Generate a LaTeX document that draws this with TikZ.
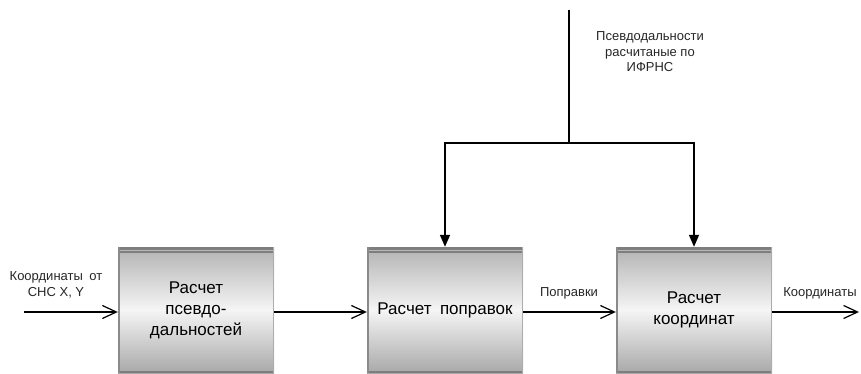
\documentclass[tikz,border=0pt]{standalone}
\usepackage{fontspec}
\setmainfont{Liberation Sans}
\usetikzlibrary{arrows.meta}
\definecolor{bandgray}{HTML}{7E7E7E}
\definecolor{bandline}{HTML}{B8B8B8}
\definecolor{edgegray}{HTML}{8A8A8A}
\begin{document}
\begin{tikzpicture}[x=1pt,y=1pt,
  procbox/.style={minimum width=156pt, minimum height=126pt, inner sep=0pt,
    align=center, font=\fontsize{17}{21}\selectfont,
    top color=black!30, bottom color=black!34, middle color=black!4,
    path picture={
      \fill[bandgray] (path picture bounding box.north west) rectangle ([yshift=-6pt]path picture bounding box.north east);
      \draw[bandline, line width=1pt] ([yshift=-3pt]path picture bounding box.north west) -- ([yshift=-3pt]path picture bounding box.north east);
      \fill[bandgray] (path picture bounding box.south west) rectangle ([yshift=2.5pt]path picture bounding box.south east);
      \fill[edgegray] (path picture bounding box.south west) rectangle ([xshift=1.5pt]path picture bounding box.north west);
      \fill[edgegray!70] ([xshift=-1.2pt]path picture bounding box.south east) rectangle (path picture bounding box.north east);
    }},
  flow/.style={line width=1.6pt, -{Straight Barb[length=14pt,width=13pt,line width=1.2pt]}},
  feed/.style={line width=1.6pt, -{Triangle[length=12pt,width=10pt]}},
  lbl/.style={font=\fontsize{13}{15.5}\selectfont, align=center, text=black!85}
]
\useasboundingbox (0,0) rectangle (861,373);

% processing blocks
\node[procbox] (b1) at (196,63) {Расчет\\псевдо-\\дальностей};
\node[procbox] (b2) at (445,63) {Расчет\enspace поправок};
\node[procbox] (b3) at (694,63) {Расчет\\координат};

% inputs and outputs
\coordinate (in) at (24,61);
\coordinate (out) at (859,61);
\draw[flow] (in) -- (in -| b1.west);
\draw[flow] (b1.east |- in) -- (b2.west |- in);
\draw[flow] (b2.east |- in) -- (b3.west |- in);
\draw[flow] (b3.east |- in) -- (out);

% pseudoranges from the radio navigation system
\coordinate (src) at (569,363);
\coordinate (split) at (569,230);
\draw[line width=1.6pt] (src) -- (split);
\draw[feed] (split) -| (b2.north);
\draw[feed] (split) -| (b3.north);

% labels
\node[lbl] (lin) at (56,88) {Координаты\enspace от\\СНС X, Y};
\node[lbl] (lcor) at (569,80) {Поправки};
\node[lbl] (lout) at (820,80) {Координаты};
\node[lbl] (lsrc) at (650,321) {Псевдодальности\\расчитаные по\\ИФРНС};
\end{tikzpicture}
\end{document}
